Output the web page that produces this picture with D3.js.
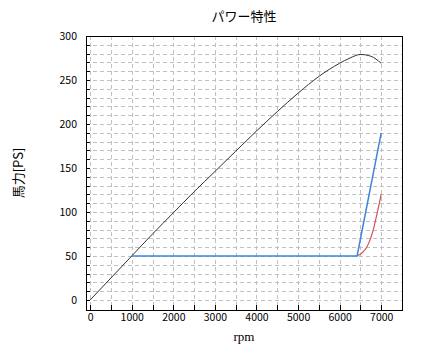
<!DOCTYPE html>
<html>
<head>
<meta charset="utf-8">
<script src="https://cdn.jsdelivr.net/npm/d3@7"></script>
<style>
  body { margin: 0; background: #fff; }
  text { font-family: "Noto Sans CJK JP", sans-serif; }
</style>
</head>
<body>
<svg id="chart" width="424" height="353"></svg>
<script>
// Data
const powerRpm = [0, 500, 1000, 1500, 2000, 2500, 3000, 3500, 4000, 4500, 5000, 5500, 6000, 6250, 6500, 6750, 7000];
const powerPs  = [0, 25, 50, 75, 99, 123, 146, 169, 192, 214, 235, 254, 269, 275, 279, 277, 269];

const blueRpm = [1000, 6420, 7000];
const bluePs  = [50, 50, 190];

const redRpm = [6420, 6550, 6650, 6730, 6810, 6900, 7000];
const redPs  = [50, 54, 60, 68, 80, 98, 120];

const xTicks = [0, 1000, 2000, 3000, 4000, 5000, 6000, 7000];
const yTicks = [0, 50, 100, 150, 200, 250, 300];

const margin = {top: 36, right: 22, bottom: 43, left: 86};
const width = 424 - margin.left - margin.right;
const height = 353 - margin.top - margin.bottom;

const svg = d3.select("#chart");
const g = svg.append("g")
  .attr("transform", `translate(${margin.left},${margin.top})`);

const x = d3.scaleLinear().domain([-100, 7500]).range([0, width]);
const y = d3.scaleLinear().domain([-11.4, 300]).range([height, 0]);

// Grid lines
const xGrid = d3.range(0, 7501, 500);
const yGrid = d3.range(0, 301, 10);
g.append("g").selectAll("line")
  .data(xGrid)
  .enter().append("line")
  .attr("x1", d => Math.round(x(d)) + 0.5)
  .attr("x2", d => Math.round(x(d)) + 0.5)
  .attr("y1", 0).attr("y2", height)
  .attr("stroke", "#c0c0c0")
  .attr("stroke-dasharray", "4,3");
g.append("g").selectAll("line")
  .data(yGrid)
  .enter().append("line")
  .attr("y1", d => Math.round(y(d)) + 0.5)
  .attr("y2", d => Math.round(y(d)) + 0.5)
  .attr("x1", 0).attr("x2", width)
  .attr("stroke", "#c0c0c0")
  .attr("stroke-dasharray", "4,3");

// Axes, ticks drawn inward
const xAxis = d3.axisBottom(x).tickValues(xTicks).tickFormat(d3.format("d")).tickSize(0).tickPadding(4);
const yAxis = d3.axisLeft(y).tickValues(yTicks).tickFormat(d3.format("d")).tickSize(0).tickPadding(9);

const gx = g.append("g")
  .attr("transform", `translate(0,${height})`)
  .call(xAxis);
const gy = g.append("g").call(yAxis);
[gx, gy].forEach(a => {
  a.select(".domain").remove();
  a.selectAll("text").attr("font-size", 10.5).attr("fill", "#000")
    .style("font-family", "'Noto Sans CJK JP', sans-serif");
});

// inward tick marks
g.append("g").selectAll("line")
  .data(xGrid.filter(d => d < 7500))
  .enter().append("line")
  .attr("x1", d => Math.round(x(d)) + 0.5)
  .attr("x2", d => Math.round(x(d)) + 0.5)
  .attr("y1", height).attr("y2", height - 5)
  .attr("stroke", "#000");
g.append("g").selectAll("line")
  .data(yGrid.filter(d => d < 300))
  .enter().append("line")
  .attr("y1", d => Math.round(y(d)) + 0.5)
  .attr("y2", d => Math.round(y(d)) + 0.5)
  .attr("x1", 0).attr("x2", 4)
  .attr("stroke", "#000");

// Lines
const line = d3.line().x(d => x(d[0])).y(d => y(d[1]));

g.append("path")
  .datum(d3.zip(powerRpm, powerPs))
  .attr("fill", "none")
  .attr("stroke", "#333")
  .attr("stroke-width", 1)
  .attr("d", line.curve(d3.curveMonotoneX));

g.append("path")
  .datum(d3.zip(redRpm, redPs))
  .attr("fill", "none")
  .attr("stroke", "#d05555")
  .attr("stroke-width", 1.2)
  .attr("d", line.curve(d3.curveMonotoneX));

g.append("path")
  .datum(d3.zip(blueRpm, bluePs))
  .attr("fill", "none")
  .attr("stroke", "#3f86d8")
  .attr("stroke-width", 1.5)
  .attr("d", line.curve(d3.curveLinear));

// Frame
g.append("rect")
  .attr("x", 0.5).attr("y", 0.5)
  .attr("width", width).attr("height", height)
  .attr("fill", "none")
  .attr("stroke", "#000");

// Title and labels
svg.append("text")
  .attr("x", margin.left + width / 2)
  .attr("y", 21)
  .attr("text-anchor", "middle")
  .attr("font-size", 13)
  .text("パワー特性");

svg.append("text")
  .attr("x", margin.left + width / 2)
  .attr("y", 341)
  .attr("text-anchor", "middle")
  .attr("font-size", 13)
  .style("font-family", "'Liberation Serif', serif")
  .text("rpm");

svg.append("text")
  .attr("transform", `translate(23,${margin.top + height / 2}) rotate(-90)`)
  .attr("text-anchor", "middle")
  .attr("font-size", 13)
  .text("馬力[PS]");
</script>
</body>
</html>
